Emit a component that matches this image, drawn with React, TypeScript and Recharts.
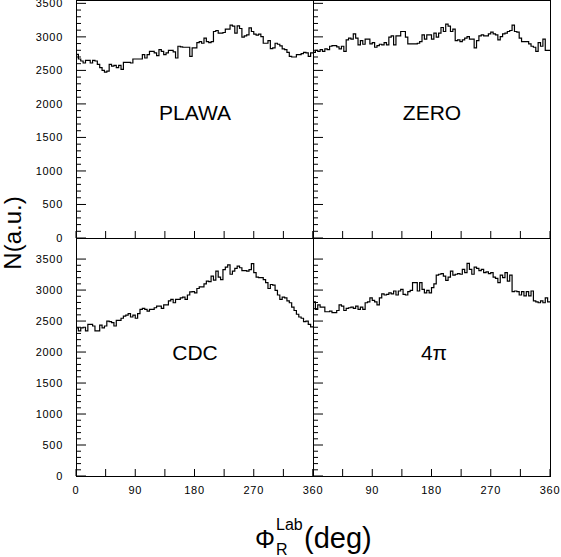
import { LineChart, Line, XAxis, YAxis } from 'recharts'

// histogram contents, 100 bins of 3.6 deg each
const PLAWA = [
  2740, 2670, 2640, 2610, 2650, 2650, 2610, 2650, 2640, 2590,
  2540, 2500, 2475, 2490, 2590, 2565, 2575, 2540, 2575, 2515,
  2620, 2620, 2620, 2610, 2670, 2670, 2670, 2670, 2735, 2685,
  2735, 2785, 2785, 2760, 2720, 2810, 2785, 2735, 2760, 2800,
  2800, 2775, 2685, 2860, 2850, 2845, 2845, 2845, 2710, 2835,
  2835, 2915, 2930, 2905, 2980, 2930, 2915, 2930, 3080, 3095,
  3055, 3055, 3065, 3115, 3115, 3175, 3160, 3055, 3165, 3125,
  2995, 3015, 3030, 3135, 3080, 3040, 3025, 3040, 3005, 2905,
  2905, 2945, 2825, 2835, 2905, 2890, 2865, 2820, 2810, 2770,
  2710, 2700, 2700, 2735, 2735, 2750, 2770, 2760, 2710, 2760,
]

const ZERO = [
  2770, 2800, 2785, 2810, 2785, 2820, 2810, 2860, 2870, 2870,
  2850, 2820, 2860, 2785, 2955, 2980, 2965, 3045, 2980, 2880,
  2945, 2890, 2965, 2965, 2895, 2915, 2845, 2870, 2890, 2880,
  2915, 2880, 2995, 3015, 2880, 3015, 3015, 3080, 3080, 2995,
  2895, 2895, 2895, 2895, 2905, 2930, 3030, 2965, 3030, 3030,
  2965, 3055, 2995, 3055, 3140, 3080, 3190, 3160, 3080, 3115,
  2945, 2955, 2930, 2955, 2980, 3005, 2965, 2965, 2835, 2945,
  3015, 3030, 3015, 3015, 3045, 3070, 3045, 3030, 2955, 3005,
  3045, 3055, 3080, 3095, 3175, 3080, 3070, 2980, 2930, 2930,
  2930, 2895, 2860, 2845, 2785, 2915, 2860, 2965, 2800, 2800,
]

const CDC = [
  2390, 2340, 2390, 2400, 2340, 2445, 2445, 2420, 2340, 2340,
  2435, 2390, 2420, 2500, 2490, 2475, 2420, 2510, 2510, 2545,
  2580, 2595, 2620, 2565, 2595, 2545, 2620, 2690, 2705, 2690,
  2660, 2690, 2690, 2715, 2740, 2740, 2705, 2760, 2760, 2825,
  2850, 2795, 2850, 2850, 2875, 2885, 2850, 2920, 2970, 2975,
  2955, 3025, 3050, 3050, 3100, 3145, 3135, 3225, 3160, 3305,
  3210, 3170, 3330, 3370, 3405, 3255, 3305, 3350, 3385, 3360,
  3315, 3315, 3305, 3330, 3425, 3280, 3210, 3200, 3200, 3170,
  3120, 3025, 3090, 3080, 2995, 2920, 2850, 2885, 2875, 2825,
  2795, 2725, 2670, 2610, 2565, 2545, 2490, 2500, 2445, 2405,
]

const FOUR_PI = [
  2810, 2690, 2760, 2725, 2725, 2650, 2650, 2660, 2635, 2635,
  2670, 2760, 2740, 2670, 2705, 2715, 2725, 2705, 2740, 2690,
  2725, 2690, 2795, 2810, 2875, 2835, 2810, 2760, 2875, 2940,
  2920, 2930, 2955, 2940, 2985, 2920, 2985, 3010, 2930, 2920,
  2975, 2995, 3120, 3120, 2985, 3120, 3010, 2955, 2995, 2955,
  3040, 3100, 3240, 3255, 3265, 3225, 3155, 3210, 3305, 3240,
  3255, 3265, 3255, 3335, 3280, 3430, 3335, 3255, 3370, 3350,
  3315, 3335, 3280, 3295, 3265, 3280, 3210, 3190, 3120, 3240,
  3200, 3280, 3145, 3240, 2975, 2985, 2975, 2920, 2975, 2905,
  2975, 2905, 2985, 2825, 2810, 2795, 2825, 2795, 2875, 2810,
]

const X_TICKS = [0, 45, 90, 135, 180, 225, 270, 315, 360]
const Y_TICKS = Array.from({ length: 36 }, (_, i) => i * 100)

const FONT = '"Liberation Sans", Arial, Helvetica, sans-serif'
const W = 561
const H = 557
const LEFT = 76
const MID_X = 313
const RIGHT = 550
const TOP = 0
const MID_Y = 238
const BOTTOM = 476

function toRows(vals: number[]) {
  const rows = vals.map((v, i) => ({ x: i * 3.6, v }))
  rows.push({ x: 360, v: vals[vals.length - 1] })
  return rows
}

function YTick(props: any) {
  const { x, y, payload, showLabel } = props
  const major = payload.value % 500 === 0
  return (
    <g>
      <line x1={x} x2={x + (major ? 10 : 5)} y1={y} y2={y} stroke="#000" />
      {showLabel && major && (
        <text x={x - 13} y={y + 4} textAnchor="end" fontSize={11} letterSpacing={0.7} fontFamily={FONT} fill="#000">
          {payload.value}
        </text>
      )}
    </g>
  )
}

function XTick(props: any) {
  const { x, y, payload, showLabel, skipZero } = props
  const v = payload.value
  const label = showLabel && v % 90 === 0 && !(skipZero && v === 0)
  return (
    <g>
      <line x1={x} x2={x} y1={y} y2={y - 7} stroke="#000" />
      {label && (
        <text x={x} y={y + 18} textAnchor="middle" fontSize={11} letterSpacing={0.7} fontFamily={FONT} fill="#000">
          {v}
        </text>
      )}
    </g>
  )
}

interface PanelProps {
  data: number[]
  left: number
  right: number
  top: number
  bottom: number
  yMax: number
  yLabels: boolean
  xLabels: boolean
  skipZero: boolean
}

function Panel({ data, left, right, top, bottom, yMax, yLabels, xLabels, skipZero }: PanelProps) {
  // axes get 1px of room so that Recharts still draws them
  return (
    <div style={{ position: 'absolute', left: 0, top: 0 }}>
      <LineChart
        width={W}
        height={H}
        data={toRows(data)}
        margin={{ left: left - 1, right: W - right, top, bottom: H - bottom - 1 }}
        style={{ overflow: 'visible' }}
      >
        <XAxis
          dataKey="x"
          type="number"
          domain={[0, 360]}
          ticks={X_TICKS}
          interval={0}
          height={1}
          axisLine={false}
          tickLine={false}
          tickSize={0}
          tickMargin={0}
          tick={(p: any) => <XTick {...p} showLabel={xLabels} skipZero={skipZero} />}
        />
        <YAxis
          type="number"
          domain={[0, yMax]}
          ticks={Y_TICKS}
          interval={0}
          width={1}
          axisLine={false}
          tickLine={false}
          tickSize={0}
          tickMargin={0}
          allowDataOverflow
          tick={(p: any) => <YTick {...p} showLabel={yLabels} />}
        />
        <Line
          type="stepAfter"
          dataKey="v"
          stroke="#000"
          strokeWidth={1.2}
          dot={false}
          isAnimationActive={false}
        />
      </LineChart>
    </div>
  )
}

export default function App() {
  const labelStyle = { fontFamily: FONT, fill: '#000' }
  return (
    <div style={{ position: 'fixed', left: 0, top: 0, width: W, height: H, background: '#fff' }}>
      <Panel data={PLAWA} left={LEFT} right={MID_X} top={TOP} bottom={MID_Y} yMax={3550} yLabels xLabels={false} skipZero={false} />
      <Panel data={ZERO} left={MID_X} right={RIGHT} top={TOP} bottom={MID_Y} yMax={3550} yLabels={false} xLabels={false} skipZero />
      <Panel data={CDC} left={LEFT} right={MID_X} top={MID_Y} bottom={BOTTOM} yMax={3840} yLabels xLabels skipZero={false} />
      <Panel data={FOUR_PI} left={MID_X} right={RIGHT} top={MID_Y} bottom={BOTTOM} yMax={3840} yLabels={false} xLabels skipZero />
      <svg width={W} height={H} style={{ position: 'absolute', left: 0, top: 0 }}>
        <rect x={LEFT + 0.5} y={TOP + 0.5} width={RIGHT - LEFT} height={BOTTOM - TOP} fill="none" stroke="#000" />
        <line x1={MID_X + 0.5} x2={MID_X + 0.5} y1={TOP} y2={BOTTOM} stroke="#000" />
        <line x1={LEFT} x2={RIGHT} y1={MID_Y + 0.5} y2={MID_Y + 0.5} stroke="#000" />
        <text x={195} y={120} textAnchor="middle" fontSize={21} {...labelStyle}>PLAWA</text>
        <text x={432} y={120} textAnchor="middle" fontSize={21} {...labelStyle}>ZERO</text>
        <text x={195} y={360} textAnchor="middle" fontSize={21} {...labelStyle}>CDC</text>
        <text x={434} y={360} textAnchor="middle" fontSize={21} {...labelStyle}>4π</text>
        <text
          transform="translate(21,233) rotate(-90)"
          textAnchor="middle"
          fontSize={24}
          {...labelStyle}
        >
          N(a.u.)
        </text>
        <text x={255} y={548} fontSize={25} {...labelStyle}>Φ</text>
        <text x={276} y={530} fontSize={16} {...labelStyle}>Lab</text>
        <text x={276} y={555} fontSize={16} {...labelStyle}>R</text>
        <text x={304} y={548} fontSize={29} {...labelStyle}>(deg)</text>
      </svg>
    </div>
  )
}
